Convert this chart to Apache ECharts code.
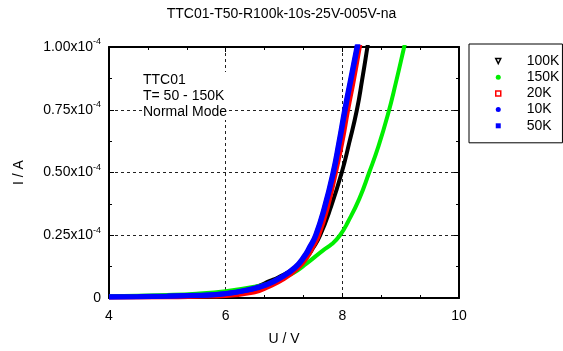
<!DOCTYPE html>
<html>
<head>
<meta charset="utf-8">
<script src="https://cdn.jsdelivr.net/npm/echarts@6/dist/echarts.min.js"></script>
<style>
  html, body { margin: 0; padding: 0; background: #fff; }
  #chart { width: 563px; height: 351px; }
</style>
</head>
<body>
<div id="chart"></div>
<script>
// 数据 (电流单位 1e-4 A)
var u100k = [4.0, 5.0, 5.5, 6.0, 6.5, 6.76, 6.9, 7.2, 7.39, 7.5, 7.62, 7.8, 7.99, 8.12, 8.25, 8.34, 8.43, 8.47];
var i100k = [0.004, 0.007, 0.010, 0.018, 0.043, 0.068, 0.082, 0.122, 0.163, 0.20, 0.25, 0.36, 0.50, 0.62, 0.75, 0.87, 1.00, 1.06];

var u150k = [4.0, 5.0, 5.5, 6.0, 6.5, 6.82, 7.16, 7.39, 7.67, 7.82, 7.96, 8.10, 8.29, 8.46, 8.62, 8.78, 8.92, 9.06, 9.10];
var i150k = [0.007, 0.012, 0.017, 0.027, 0.045, 0.063, 0.100, 0.138, 0.19, 0.215, 0.25, 0.305, 0.395, 0.50, 0.605, 0.73, 0.86, 1.00, 1.04];

var u20k = [4.0, 5.0, 5.5, 6.0, 6.5, 6.7, 7.0, 7.25, 7.40, 7.5, 7.6, 7.75, 7.89, 8.0, 8.1, 8.2, 8.3, 8.34];
var i20k = [0.002, 0.003, 0.005, 0.008, 0.023, 0.040, 0.075, 0.12, 0.162, 0.203, 0.25, 0.36, 0.50, 0.62, 0.75, 0.87, 1.00, 1.05];

var u10k = [4.0, 4.5, 5.0, 5.5, 6.0, 6.47, 6.7, 6.93, 7.2, 7.36, 7.45, 7.55, 7.7, 7.85, 7.95, 8.05, 8.15, 8.26, 8.30];
var i10k = [0.004, 0.005, 0.007, 0.010, 0.017, 0.036, 0.052, 0.078, 0.122, 0.167, 0.203, 0.25, 0.36, 0.50, 0.62, 0.75, 0.87, 1.00, 1.05];

var u50k = [4.0, 4.5, 5.0, 5.5, 6.0, 6.46, 6.69, 6.92, 7.19, 7.35, 7.44, 7.54, 7.69, 7.84, 7.94, 8.04, 8.14, 8.25, 8.29];
var i50k = [0.005, 0.006, 0.008, 0.011, 0.018, 0.037, 0.053, 0.079, 0.123, 0.168, 0.204, 0.25, 0.36, 0.50, 0.62, 0.75, 0.87, 1.00, 1.05];

var names = ['100K', '150K', '20K', '10K', '50K'];
var xTicks = [4, 6, 8, 10];
var yTicks = [0, 0.25, 0.5, 0.75, 1.0];

function zip(xs, ys) {
    return xs.map(function (x, i) { return [x, ys[i]]; });
}

var font = 'Liberation Sans, Arial, sans-serif';
var fs = 14;

// 轴的公共样式
function frameAxis(extra) {
    var base = {
        axisLine: { show: true, onZero: false, lineStyle: { color: '#000', width: 2 } },
        axisTick: { show: true, inside: true, length: 5, lineStyle: { color: '#000', width: 1 } },
        minorTick: { show: true, length: 3, lineStyle: { color: '#000', width: 1 } },
        splitLine: { show: false },
        axisLabel: { show: false }
    };
    return Object.assign(base, extra);
}

var dashLine = { show: true, lineStyle: { color: '#222', width: 1, type: [3, 3] } };

function curve(name, us, is, color, w) {
    return {
        name: name, type: 'line', data: zip(us, is),
        smooth: 0.5, showSymbol: false,
        lineStyle: { color: color, width: w }, itemStyle: { color: color }
    };
}

var option = {
    backgroundColor: '#fff',
    animation: false,
    title: {
        text: 'TTC01-T50-R100k-10s-25V-005V-na',
        left: 'center',
        top: 2,
        textStyle: { fontFamily: font, fontSize: fs, fontWeight: 'normal', color: '#000' }
    },
    grid: { left: 109, right: 104, top: 47, bottom: 50 },
    legend: {
        orient: 'vertical',
        left: 469,
        top: 44,
        padding: [10, 3, 10, 26],
        itemGap: 2.2,
        itemWidth: 5,
        itemHeight: 5,
        borderColor: '#000',
        borderWidth: 1,
        textStyle: { fontFamily: font, fontSize: fs, color: '#000', padding: [0, 0, 0, 21] },
        data: [
            { name: '100K', icon: 'path://M0,0L10,0L5,10Z', itemStyle: { color: '#fff', borderColor: '#000', borderWidth: 1.5 } },
            { name: '150K', icon: 'circle', itemStyle: { color: '#00ee00' } },
            { name: '20K', icon: 'rect', itemStyle: { color: '#fff', borderColor: '#ff0000', borderWidth: 1.5 } },
            { name: '10K', icon: 'circle', itemStyle: { color: '#0000ff' } },
            { name: '50K', icon: 'rect', itemStyle: { color: '#0000ff' } }
        ]
    },
    xAxis: [
        frameAxis({
            type: 'value', min: 4, max: 10, interval: 2, position: 'bottom',
            minorTick: { show: true, splitNumber: 3, length: 3, lineStyle: { color: '#000' } },
            splitLine: dashLine,
            axisLabel: { show: true, fontFamily: font, fontSize: fs, color: '#000', margin: 11 },
            name: 'U / V', nameLocation: 'middle', nameGap: 34,
            nameTextStyle: { fontFamily: font, fontSize: fs, color: '#000' }
        }),
        frameAxis({
            type: 'value', min: 4, max: 10, interval: 2, position: 'top',
            minorTick: { show: true, splitNumber: 3, length: 3, lineStyle: { color: '#000' } }
        })
    ],
    yAxis: [
        frameAxis({
            type: 'value', min: 0, max: 1, interval: 0.25, position: 'left',
            minorTick: { show: true, splitNumber: 2, length: 3, lineStyle: { color: '#000' } },
            splitLine: dashLine,
            axisLabel: {
                show: true, margin: 8, color: '#000', fontFamily: font, fontSize: fs,
                formatter: function (v) {
                    if (v === 0) return '0';
                    return v.toFixed(2) + 'x10{s|-4}';
                },
                rich: {
                    s: { fontFamily: font, fontSize: 9, color: '#000', padding: [0, 0, 10, 0] }
                }
            },
            name: 'I / A', nameLocation: 'middle', nameGap: 83, nameRotate: 90,
            nameTextStyle: { fontFamily: font, fontSize: fs, color: '#000' }
        }),
        frameAxis({
            type: 'value', min: 0, max: 1, interval: 0.25, position: 'right',
            minorTick: { show: true, splitNumber: 2, length: 3, lineStyle: { color: '#000' } }
        })
    ],
    graphic: [
        {
            type: 'text', left: 143, top: 72, z: 5,
            style: {
                text: 'TTC01\nT= 50 - 150K\nNormal Mode',
                fontFamily: font, fontSize: fs, lineHeight: 16, fill: '#000',
                backgroundColor: '#fff'
            }
        }
    ],
    series: [
        curve('100K', u100k, i100k, '#000', 4),
        curve('150K', u150k, i150k, '#00ee00', 4),
        curve('20K', u20k, i20k, '#ff0000', 4),
        curve('10K', u10k, i10k, '#0000ff', 5),
        curve('50K', u50k, i50k, '#0000ff', 5)
    ]
};

var chart = echarts.init(document.getElementById('chart'));
chart.setOption(option);
</script>
</body>
</html>
